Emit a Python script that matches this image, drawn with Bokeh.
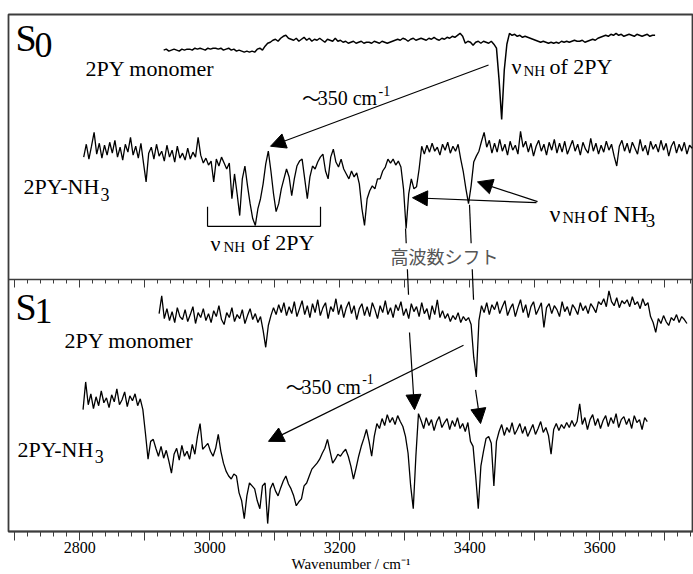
from bokeh.plotting import figure
from bokeh.models import (LinearAxis, SingleIntervalTicker, Label, Arrow, NormalHead,
                          CustomJSTickFormatter, ColumnDataSource)
from bokeh.embed import file_html
from bokeh.resources import INLINE

# ---------------- data (intensity, arbitrary units) ----------------
# S0, 2PY monomer: wavenumber grid start/step and intensities
s0_mono_start, s0_mono_step = 2929, 4
s0_mono = [
    -10, -9, -11, -10, -9, -10, -11, -9, -10, -9,
    -9, -10, -8, -9, -8, -9, -10, -8, -9, -8,
    -8, -9, -8, -10, -9, -8, -10, -9, -11, -10,
    -11, -12, -11, -12, -11, -12, -9, -8, -10, -6,
    -3, -2, 0, 1, -1, 2, 4, 5, 2, 1,
    0, 2, -1, 1, 3, 0, 2, -1, 1, 0,
    2, 0, -2, 1, 0, -1, 2, -1, 0, -2,
    -1, -3, -2, -1, -3, -2, -1, -3, -2, -2,
    -3, -1, -2, -3, -1, -2, -3, -2, -1, 0,
    1, 0, 2, 1, -1, 1, 2, 0, 1, 2,
    1, 0, 2, 1, 3, 1, 0, 2, 1, 3,
    2, 4, 3, 5, 7, 4, -3, -1, -2, -5,
    -2, -1, -3, -1, -2, -3, -1, -4, -8, -40,
    -80, -30, -4, 7, 5, 6, 4, 5, 3, 4,
    3, 2, 1, 0, -1, -2, -1, -2, -3, -2,
    -3, -2, -3, -1, -2, -1, -2, -1, 0, -1,
    -1, 0, -2, -1, 0, 1, 0, 2, 3, 4,
    5, 4, 6, 5, 7, 5, 6, 4, 5, 6,
    5, 4, 6, 5, 4, 5, 6, 4, 5, 5,
]

# S0, 2PY-NH3
s0_cplx_start, s0_cplx_step = 2806, 4
s0_cplx = [
    -8, 5, -10, 3, 17, -5, 6, -9, 4, -6,
    7, -4, 9, -8, 2, -11, 5, -3, 12, -6,
    3, -9, 6, -14, -33, -4, 2, -10, 5, -7,
    -2, -12, 4, -8, -1, -13, 3, -9, -4, -11,
    1, -10, -3, -8, 12, -6, -14, -9, -16, -12,
    -33, -10, -17, -8, -14, -20, -14, -50, -25, -45,
    -67, -30, -17, -37, -55, -70, -77, -60, -50, -35,
    -15, -2, -22, -45, -63, -55, -40, -30, -20, -28,
    -47, -30, -17, -12, -10, -30, -50, -28, -17, -20,
    -13, -8, -5, -22, -30, -8, 0, -13, -18, -10,
    -20, -25, -30, -22, -28, -24, -35, -60, -77, -50,
    -42, -37, -40, -30, -30, -22, -18, -10, -14, -10,
    -16, -12, -18, -40, -80, -45, -30, -40, -38, -20,
    3, -5, 4, -3, 6, -2, 2, -6, 5, -1,
    7, -4, 3, -2, 5, -10, -23, -40, -55, -37,
    -13, -7, -2, 8, 17, 2, 9, -4, 6, -3,
    10, -2, 5, -6, 8, -1, 4, -5, 18, 2,
    8, -3, 6, -7, 3, 9, -2, 5, -6, 7,
    -1, 10, -4, 6, -3, 8, -5, 2, 9, -2,
    5, -6, 7, 0, -4, 11, -2, 6, -5, 4,
    -3, 8, -1, 5, -7, -17, 3, 9, -2, 6,
    -4, 7, 1, -5, 10, -2, 4, -6, 8, 0,
    5, -3, 9, -1, 6, -7, 3, 8, -4, 5,
    -2, 7, -5, 4, 1,
]

# S1, 2PY monomer
s1_mono_start, s1_mono_step = 2922, 4
s1_mono = [
    -3, 15, -8, 2, -10, -1, -12, 3, -6, -9,
    1, -11, -4, 4, -13, -2, -7, 2, -10, -3,
    -12, 0, -6, 5, -9, -14, -2, -7, 3, -11,
    -4, -8, 1, -13, -5, 2, -9, -3, -12, -6,
    -20, -37, -15, -5, 3, -4, 6, -2, 8, -5,
    4, -3, 9, -6, 2, 10, -4, 5, -7, 7,
    -2, 11, -5, 3, 8, -8, 4, -1, 12, -4,
    6, -7, 3, 9, -3, 5, -9, 2, 7, -5,
    4, -6, 8, 1, -8, 5, -2, 10, -4, 3,
    -7, 6, 0, 9, -5, 2, -8, 7, -1, 4,
    -6, 8, -3, 2, -9, 5, -4, 11, -7, 0,
    -8, -3, -11, -5, -9, -2, -12, -6, -10, -7,
    -14, -47, -67, -10, 5, -2, 8, -4, 6, 1,
    9, -3, 4, 10, -5, 2, 7, -6, 3, 11,
    -2, 6, -7, 4, 9, -4, 2, 8, -17, 3,
    7, -3, 5, 1, -6, 9, -1, 4, -5, 6,
    2, -4, 8, 0, 5, -3, 7, 3, -2, 9,
    6, 12, 4, 20, 9, 5, 13, 3, 10, 7,
    11, 4, 14, 6, 9, 2, 12, 5, 8, -6,
    -12, -22, -8, -13, -5, -11, -15, -7, -10, -4,
    -12, -6, -9, -13,
]

# S1, 2PY-NH3
s1_cplx_start, s1_cplx_step = 2805, 4
s1_cplx = [
    17, 45, 22, 33, 18, 30, 21, 36, 24, 29,
    19, 32, 25, 38, 22, 27, 35, 20, 31, 26,
    33, 21, 28, 17, -7, -33, -15, -13, -22, -30,
    -20, -32, -24, -35, -47, -28, -22, -34, -19, -30,
    -25, -33, -18, -28, -10, 3, -23, -20, -17, -25,
    -30, -22, -8, -25, -37, -45, -50, -53, -48, -50,
    -67, -75, -93, -70, -57, -60, -63, -75, -83, -60,
    -57, -98, -63, -57, -65, -70, -62, -55, -50, -58,
    -63, -70, -80, -76, -73, -60, -57, -50, -43, -40,
    -37, -33, -27, -22, -13, -25, -37, -33, -28, -30,
    -26, -23, -30, -40, -53, -42, -30, -20, -12, -3,
    -15, -30, -10, 3, -2, 8, 1, 12, 4, 9,
    2, 11, 5, 0, -10, -27, -60, -83, -30, 13,
    6, -2, 9, 1, 7, -4, 5, 10, -1, 4,
    8, -3, 6, 0, 9, -2, 3, -5, 4, -15,
    -20, -50, -83, -40, -25, -12, -10, -17, -60, -15,
    -5, 2, -9, -1, -6, 4, -8, -3, 3, -7,
    0, -10, -4, 2, -8, -2, 5, -6, -1, -9,
    -28, -3, 3, -4, 2, -2, 4, -1, 6, 0,
    5, 23, 2, 9, -3, 7, 12, 1, 8, -2,
    6, 11, 0, 9, 3, 13, -1, 7, 10, 2,
    8, -2, 11, 4, 7, -3, 9, 5,
]

tick_labels = {2800: "2800", 3000: "3000", 3200: "3200", 3400: "3400", 3600: "3600"}

# ---------------- layout / style ----------------
SERIF = "Liberation Serif"
CJK = "Noto Sans CJK JP"
FRAME = "#3c3c3c"
# vertical placement of each trace inside the stacked plot (layout, not data)
trace_specs = [
    (s0_mono_start, s0_mono_step, s0_mono, 496, 1.5),
    (s0_cplx_start, s0_cplx_step, s0_cplx, 386, 1.3),
    (s1_mono_start, s1_mono_step, s1_mono, 223, 1.3),
    (s1_cplx_start, s1_cplx_step, s1_cplx, 106, 1.3),
]

p = figure(width=693, height=574, x_range=(2690.3, 3744.1), y_range=(0, 522),
           output_backend="svg", toolbar_location=None, y_axis_location=None,
           min_border_left=8, min_border_right=0, min_border_top=14, min_border_bottom=0)
p.grid.visible = False
p.outline_line_color = FRAME
p.outline_line_width = 1.8
p.background_fill_color = "white"
p.border_fill_color = "white"

for start, step, vals, offset, lw in trace_specs:
    src = ColumnDataSource(dict(x=[start + step * i for i in range(len(vals))],
                                y=[offset + v for v in vals]))
    p.line("x", "y", source=src, line_color="black", line_width=lw)

# bottom axis
ax = p.xaxis[0]
ax.ticker = SingleIntervalTicker(interval=100, num_minor_ticks=5)
all_major = range(2700, 3800, 100)
ax.major_label_overrides = {t: tick_labels.get(t, "") for t in all_major}
ax.major_tick_in = 0
ax.major_tick_out = 9
ax.minor_tick_in = 0
ax.minor_tick_out = 5
ax.axis_line_color = FRAME
ax.axis_line_width = 1.6
ax.major_tick_line_color = FRAME
ax.minor_tick_line_color = FRAME
ax.major_label_text_font = SERIF
ax.major_label_text_font_size = "16px"
ax.major_label_text_color = "black"
ax.major_label_standoff = 1
ax.axis_label = "Wavenumber / cm⁻¹"
ax.axis_label_text_font = SERIF
ax.axis_label_text_font_size = "15px"
ax.axis_label_text_font_style = "normal"
ax.axis_label_text_color = "black"
ax.axis_label_standoff = 0

# divider between S0 and S1 panels: an axis fixed inside the plot
div = LinearAxis(fixed_location=254,
                 ticker=SingleIntervalTicker(interval=100, num_minor_ticks=5),
                 formatter=CustomJSTickFormatter(code="return ''"),
                 major_label_text_font_size="0px", major_label_standoff=0,
                 major_tick_in=0, major_tick_out=8, minor_tick_in=0, minor_tick_out=4,
                 axis_line_color=FRAME, axis_line_width=1.6,
                 major_tick_line_color=FRAME, minor_tick_line_color=FRAME)
p.add_layout(div, "below")


def lab(x, y, text, size, color="black", font=SERIF, align="left", **kw):
    p.add_layout(Label(x=x, y=y, text=text, text_font=font, text_font_size=size,
                       text_color=color, text_align=align, text_baseline="alphabetic", **kw))


def arrow(x0, y0, x1, y1, head=True):
    end = NormalHead(size=15, fill_color="black", line_color="black", line_width=1) if head else None
    p.add_layout(Arrow(x_start=x0, y_start=y0, x_end=x1, y_end=y1, end=end,
                       line_color="black", line_width=1.2))


# --- S0 panel texts
lab(2701.1, 498, "S", "38px")
lab(2730.3, 491, "0", "36px")
lab(2808.8, 467, "2PY monomer", "22px")
lab(3142.0, 438, "～", "19px", font=CJK)
lab(3166.0, 438, "350 cm", "20px")
lab(3259.5, 445, "-1", "14px")
lab(3464.2, 470, "ν", "22px")
lab(3482.6, 465, "NH", "15px")
lab(3522.6, 470, "of 2PY", "22px")
lab(2713.4, 348, "2PY-NH", "22px")
lab(2832.0, 340, "3", "18px")
lab(3001.1, 291, "ν", "22px")
lab(3021.1, 287, "NH", "15px")
lab(3064.2, 292, "of 2PY", "22px")
lab(3522.6, 321, "ν", "24px")
lab(3542.6, 317, "NH", "16px")
lab(3581.1, 321, "of NH", "24px")
lab(3670.5, 314, "3", "19px")

# bracket under the NH band
arrow(2996.5, 308, 3170.3, 308, head=False)
arrow(2996.5, 308, 2996.5, 328, head=False)
arrow(3170.3, 308, 3170.3, 328, head=False)

# arrows in S0
arrow(3428.8, 471, 3093.4, 389)
arrow(3502.6, 332, 3311.8, 337)
arrow(3504.2, 333, 3411.8, 353)
# lines joining the S0 and S1 bands
arrow(3301.1, 306, 3305.7, 239, head=False)
arrow(3399.5, 330, 3405.7, 234, head=False)
lab(3361.0, 278, "高波数シフト", "18px", color="#555555", font=CJK,
    align="center", background_fill_color="white")

# --- S1 panel texts
lab(2701.1, 227, "S", "38px")
lab(2730.3, 223, "1", "36px")
lab(2776.5, 193, "2PY monomer", "22px")
lab(3117.0, 146, "～", "19px", font=CJK)
lab(3141.0, 146, "350 cm", "20px")
lab(3234.4, 154, "-1", "14px")
lab(2704.2, 83, "2PY-NH", "22px")
lab(2823.0, 76, "3", "18px")

arrow(3307.2, 201, 3314.9, 123)
arrow(3408.8, 143, 3416.5, 109)
arrow(3390.3, 188, 3090.3, 91)

open("out.html", "w").write(file_html(p, INLINE))
